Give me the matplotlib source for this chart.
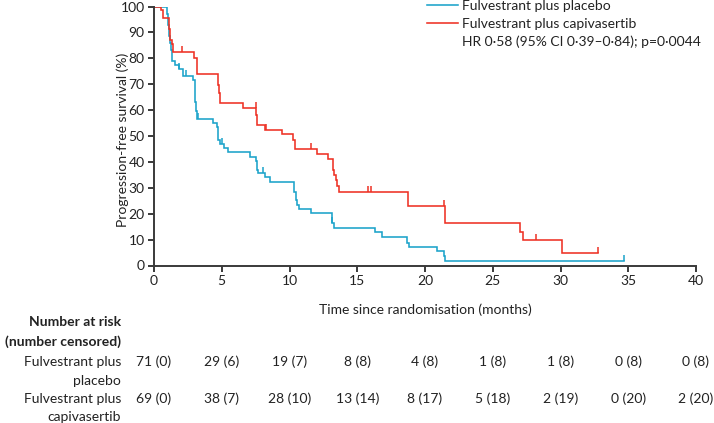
import numpy as np
import matplotlib
matplotlib.use("Agg")
import matplotlib.pyplot as plt
from matplotlib.lines import Line2D

plt.rcParams['font.family'] = ['Lato', 'DejaVu Sans']

# ---------------- data ----------------
placebo_t = [0, 0.94, 1.06, 1.12, 1.20, 1.28, 1.35, 1.55, 1.87, 2.16, 2.86, 3.00, 3.05, 3.10, 3.15,
             4.38, 4.63, 4.70, 4.73, 4.75, 4.87, 5.17, 5.49, 7.09, 7.55, 7.58, 7.62, 7.70, 8.20, 8.57,
             10.30, 10.34, 10.49, 10.58, 10.73, 11.57, 13.12, 13.32, 16.32, 16.82, 18.66, 18.83,
             20.88, 21.37, 21.49, 34.71]
placebo_s = [100, 97.2, 93.0, 88.7, 85.9, 83.1, 78.9, 77.5, 75.7, 73.2, 71.6, 67.0, 63.0, 59.8, 56.4,
             54.9, 53.4, 51.8, 50.1, 48.5, 46.9, 45.2, 43.7, 42.0, 40.3, 38.6, 36.9, 35.6, 34.0, 32.1,
             30.3, 28.5, 25.3, 23.4, 21.8, 20.1, 16.3, 14.6, 12.8, 11.1, 8.8, 7.3,
             5.6, 3.7, 1.7, 1.7]
placebo_cens = [0.08, 1.87, 2.36, 3.27, 5.00, 8.07, 13.12, 34.71]

capi_t = [0, 0.54, 0.70, 1.13, 1.20, 1.30, 1.42, 2.95, 3.15, 4.75, 4.80, 4.85, 6.60, 7.55, 7.60,
          8.20, 9.48, 10.29, 10.41, 12.02, 12.83, 13.20, 13.32, 13.44, 13.54, 13.69, 18.71, 18.78,
          21.44, 26.98, 27.20, 30.13, 32.77]
capi_s = [100, 98.6, 95.7, 91.3, 87.0, 85.5, 82.6, 80.0, 73.9, 69.6, 66.7, 62.6, 61.0, 58.0, 54.2,
          52.3, 50.7, 48.5, 44.9, 42.9, 41.0, 37.0, 35.0, 33.0, 30.7, 28.5, 25.5, 23.1,
          16.5, 13.0, 9.8, 4.9, 4.9]
capi_cens = [2.05, 7.50, 8.30, 11.57, 15.83, 16.00, 21.40, 28.20, 32.77]

risk_times = [0, 5, 10, 15, 20, 25, 30, 35, 40]
risk_placebo = ["71 (0)", "29 (6)", "19 (7)", "8 (8)", "4 (8)", "1 (8)", "1 (8)", "0 (8)", "0 (8)"]
risk_capi = ["69 (0)", "38 (7)", "28 (10)", "13 (14)", "8 (17)", "5 (18)", "2 (19)", "0 (20)", "2 (20)"]

labels = ["Fulvestrant plus placebo", "Fulvestrant plus capivasertib"]
hr_text = "HR 0·58 (95% CI 0·39–0·84); p=0·0044"
blue = "#1BA3CA"
red = "#EE3124"
axc = "#3a3a3a"
txtc = "#222222"
fs = 10

# ---------------- figure ----------------
W, H = 714, 423
fig = plt.figure(figsize=(W / 100, H / 100), dpi=100)
ax = fig.add_axes([154 / W, 1 - 265.5 / H, (696 - 154) / W, (265.5 - 6.5) / H])

def step_value(ts, ss, t):
    idx = np.searchsorted(ts, t, side='right') - 1
    return ss[idx]

for ts, ss, cs, col in [(placebo_t, placebo_s, placebo_cens, blue), (capi_t, capi_s, capi_cens, red)]:
    ax.step(ts, ss, where='post', color=col, lw=1.15, solid_joinstyle='miter')
    cy = [step_value(np.array(ts), np.array(ss), c) for c in cs]
    ax.plot(cs, cy, linestyle='none', marker=2, markersize=4.5, markeredgewidth=1.1, color=col)

ax.set_xlim(0, 40)
ax.set_ylim(0, 100)
ax.set_xticks(range(0, 41, 5))
ax.set_yticks(range(0, 101, 10))
for s in ['top', 'right']:
    ax.spines[s].set_visible(False)
for s in ['left', 'bottom']:
    ax.spines[s].set_color(axc)
    ax.spines[s].set_linewidth(1.4)
ax.tick_params(axis='both', colors=axc, width=1.4, length=4.2, labelsize=fs, labelcolor=txtc, pad=2.5)
ax.set_xlabel("Time since randomisation (months)", fontsize=fs, color=txtc)
ax.set_ylabel("Progression-free survival (%)", fontsize=fs, color=txtc)
ax.xaxis.set_label_coords(0.5, -0.145)
ax.yaxis.set_label_coords(-0.047, 0.485)

handles = [Line2D([], [], color=blue, lw=1.15), Line2D([], [], color=red, lw=1.15),
           Line2D([], [], color='none', lw=0)]
leg = ax.legend(handles, labels + [hr_text], loc='upper left', bbox_to_anchor=(427 / W, 1 - 0 / H),
                bbox_transform=fig.transFigure, frameon=False, fontsize=fs, handlelength=2.2,
                handletextpad=0.35, labelspacing=0.42, borderaxespad=0, borderpad=0)
for t in leg.get_texts():
    t.set_color(txtc)

# ---------------- risk table ----------------
xr = 121 / W
fig.text(xr, 1 - 322 / H, "Number at risk", ha='right', va='center', fontsize=fs, fontweight='bold', color=txtc)
fig.text(xr, 1 - 342 / H, "(number censored)", ha='right', va='center', fontsize=fs, fontweight='bold', color=txtc)
fig.text(xr, 1 - 362 / H, "Fulvestrant plus", ha='right', va='center', fontsize=fs, color=txtc)
fig.text(xr, 1 - 381 / H, "placebo", ha='right', va='center', fontsize=fs, color=txtc)
fig.text(xr, 1 - 399 / H, "Fulvestrant plus", ha='right', va='center', fontsize=fs, color=txtc)
fig.text(xr, 1 - 417 / H, "capivasertib", ha='right', va='center', fontsize=fs, color=txtc)

trans = matplotlib.transforms.blended_transform_factory(ax.transData, fig.transFigure)
for t, a, b in zip(risk_times, risk_placebo, risk_capi):
    ax.text(t, 1 - 362 / H, a, transform=trans, ha='center', va='center', fontsize=fs, color=txtc, clip_on=False)
    ax.text(t, 1 - 399 / H, b, transform=trans, ha='center', va='center', fontsize=fs, color=txtc, clip_on=False)

fig.savefig("out.png", dpi=100)
